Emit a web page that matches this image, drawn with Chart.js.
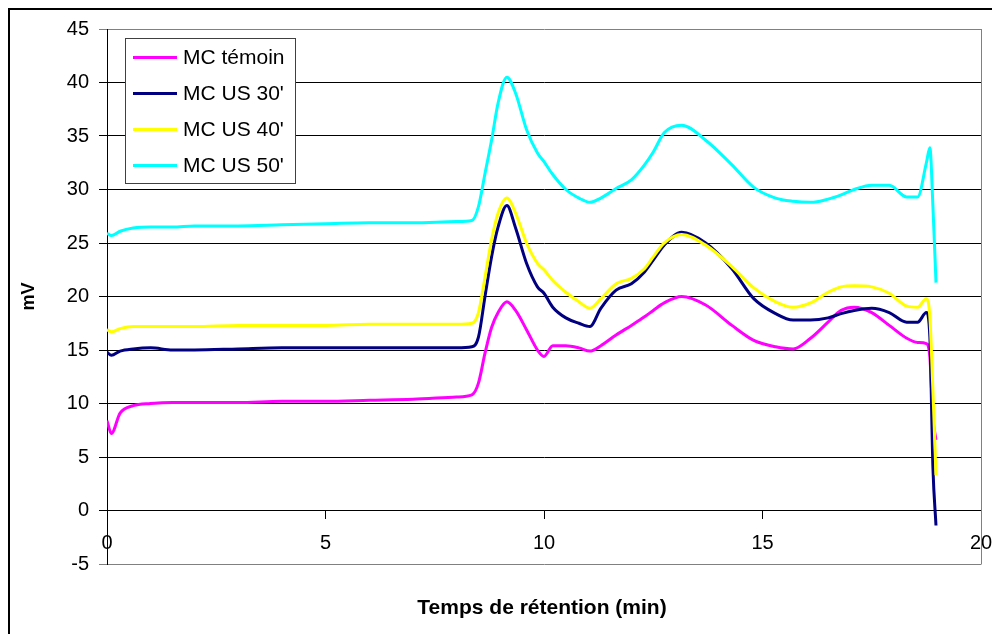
<!DOCTYPE html>
<html>
<head>
<meta charset="utf-8">
<script src="https://cdn.jsdelivr.net/npm/chart.js@4.4.1/dist/chart.umd.min.js"></script>
<style>
  html, body { margin: 0; padding: 0; background: #ffffff; }
  canvas { display: block; }
</style>
</head>
<body>
<canvas id="chromato" width="992" height="634"></canvas>
<script>
// Retention time (min) shared by all four traces
const retentionTime = [
  0, 0.1, 0.3, 0.6, 1, 1.5, 2, 3, 4, 5,
  6, 7, 8, 8.35, 8.5, 8.65, 8.8, 8.95, 9.15, 9.35,
  9.6, 9.85, 10.0, 10.2, 10.5, 10.8, 11.05, 11.3, 11.65, 12.0,
  12.3, 12.5, 12.75, 13.15, 13.7, 14.3, 14.8, 15.3, 15.7, 16.1,
  16.5, 16.8, 17.1, 17.5, 17.9, 18.3, 18.55, 18.75, 18.83, 18.9,
  18.97
];

// Detector signal (mV)
const mcTemoin = [
  8.4, 7.2, 9.1, 9.8, 10.0, 10.1, 10.1, 10.1, 10.2, 10.2,
  10.3, 10.4, 10.6, 10.8, 11.9, 14.7, 17.1, 18.5, 19.5, 18.7,
  16.9, 15.0, 14.4, 15.4, 15.4, 15.2, 14.9, 15.4, 16.4, 17.3,
  18.1, 18.7, 19.4, 20.0, 19.2, 17.3, 15.9, 15.3, 15.1, 16.1,
  17.6, 18.7, 19.0, 18.5, 17.3, 16.1, 15.7, 15.6, 14.3, 8.7,
  6.6
];
const mcUs30 = [
  14.8, 14.5, 14.9, 15.1, 15.2, 15.0, 15.0, 15.1, 15.2, 15.2,
  15.2, 15.2, 15.2, 15.3, 16.2, 20.0, 23.7, 26.5, 28.5, 26.4,
  23.1, 20.9, 20.3, 19.0, 18.0, 17.5, 17.2, 18.9, 20.6, 21.2,
  22.3, 23.4, 24.8, 26.0, 25.0, 22.6, 19.8, 18.4, 17.8, 17.8,
  18.0, 18.4, 18.7, 18.9, 18.5, 17.6, 17.6, 18.5, 16.2, 4.0,
  -1.4
];
const mcUs40 = [
  16.9, 16.7, 17.0, 17.2, 17.2, 17.2, 17.2, 17.3, 17.3, 17.3,
  17.4, 17.4, 17.4, 17.5, 18.5, 21.8, 25.3, 27.8, 29.2, 27.8,
  25.0, 23.1, 22.5, 21.5, 20.4, 19.5, 18.9, 19.8, 21.2, 21.7,
  22.6, 23.7, 25.0, 25.8, 24.8, 22.8, 20.8, 19.5, 19.0, 19.4,
  20.4, 20.9, 21.0, 20.9, 20.3, 19.1, 19.0, 19.8, 18.1, 11.2,
  3.3
];
const mcUs50 = [
  25.9, 25.7, 26.1, 26.4, 26.5, 26.5, 26.6, 26.6, 26.7, 26.8,
  26.9, 26.9, 27.0, 27.1, 28.4, 31.5, 34.6, 38.1, 40.5, 39.0,
  35.6, 33.4, 32.6, 31.4, 30.0, 29.2, 28.8, 29.2, 30.1, 30.9,
  32.3, 33.5, 35.3, 36.0, 34.6, 32.3, 30.2, 29.2, 28.9, 28.8,
  29.1, 29.5, 30.0, 30.4, 30.4, 29.3, 29.3, 32.5, 33.9, 28.4,
  21.3
];

const seriesNames = ['MC témoin', "MC US 30'", "MC US 40'", "MC US 50'"];
const seriesValues = [mcTemoin, mcUs30, mcUs40, mcUs50];
const seriesColors = ['#FF00FF', '#000080', '#FFFF00', '#00FFFF'];

const FONT = "'Liberation Sans', Arial, sans-serif";
Chart.defaults.font.family = FONT;
Chart.defaults.color = '#000000';

const toPoints = vals => retentionTime.map((t, i) => ({ x: t, y: vals[i] }));

// Page background, outer frame and right edge of the plot area
const framePlugin = {
  id: 'frame',
  beforeDraw(chart) {
    const { ctx } = chart;
    ctx.save();
    ctx.fillStyle = '#ffffff';
    ctx.fillRect(0, 0, chart.width, chart.height);
    ctx.strokeStyle = '#000000';
    ctx.lineWidth = 2;
    ctx.strokeRect(9, 9, chart.width + 10, chart.height + 10);
    ctx.restore();
  },
  beforeDatasetsDraw(chart) {
    const { ctx, chartArea: a } = chart;
    ctx.save();
    ctx.strokeStyle = '#808080';
    ctx.lineWidth = 1;
    ctx.beginPath();
    ctx.moveTo(Math.round(a.right) + 0.5, a.top);
    ctx.lineTo(Math.round(a.right) + 0.5, a.bottom + 0.5);
    ctx.stroke();
    ctx.restore();
  }
};

// Boxed legend inside the plot, top-left
const boxLegendPlugin = {
  id: 'boxLegend',
  afterDatasetsDraw(chart) {
    const { ctx } = chart;
    const x0 = 125.5, y0 = 38.5, w = 170, h = 145;
    ctx.save();
    ctx.fillStyle = '#ffffff';
    ctx.fillRect(x0, y0, w, h);
    ctx.strokeStyle = '#404040';
    ctx.lineWidth = 1;
    ctx.strokeRect(x0, y0, w, h);
    ctx.font = '21px ' + FONT;
    ctx.textBaseline = 'middle';
    ctx.textAlign = 'left';
    chart.data.datasets.forEach((ds, i) => {
      const y = 57.5 + i * 36;
      ctx.strokeStyle = ds.borderColor;
      ctx.lineWidth = 3;
      ctx.beginPath();
      ctx.moveTo(133, y);
      ctx.lineTo(177, y);
      ctx.stroke();
      ctx.fillStyle = '#000000';
      ctx.fillText(ds.label, 183, y + 1);
    });
    ctx.restore();
  }
};

// Horizontal axis title under the plot
const xTitlePlugin = {
  id: 'xTitle',
  afterDraw(chart) {
    const { ctx } = chart;
    ctx.save();
    ctx.font = 'bold 21px ' + FONT;
    ctx.fillStyle = '#000000';
    ctx.textAlign = 'center';
    ctx.textBaseline = 'middle';
    ctx.fillText('Temps de rétention (min)', 542, 608);
    ctx.restore();
  }
};

new Chart(document.getElementById('chromato'), {
  type: 'line',
  data: {
    datasets: seriesValues.map((vals, i) => ({
      label: seriesNames[i],
      data: toPoints(vals),
      borderColor: seriesColors[i],
      backgroundColor: seriesColors[i],
      borderWidth: 3,
      pointRadius: 0,
      fill: false,
      cubicInterpolationMode: 'monotone',
      order: seriesValues.length - 1 - i
    }))
  },
  options: {
    responsive: false,
    animation: false,
    devicePixelRatio: 1,
    layout: { padding: { left: 0, top: 29, right: 11, bottom: 70 } },
    plugins: {
      legend: { display: false },
      tooltip: { enabled: false }
    },
    scales: {
      x: {
        type: 'linear',
        position: { y: 0 },
        min: 0,
        max: 20,
        afterFit(scale) { scale.paddingLeft = 0; scale.paddingRight = 0; },
        ticks: {
          stepSize: 5,
          font: { size: 20 },
          color: '#000000',
          padding: 13,
          maxRotation: 0
        },
        grid: {
          drawOnChartArea: false,
          drawTicks: true,
          tickLength: 8,
          color: '#000000'
        },
        border: { color: '#000000', width: 1 }
      },
      y: {
        type: 'linear',
        position: 'left',
        min: -5,
        max: 45,
        afterFit(scale) { scale.width = 107; },
        ticks: {
          stepSize: 5,
          font: { size: 20 },
          color: '#000000',
          padding: 10
        },
        grid: {
          drawTicks: true,
          tickLength: 8,
          color: ctx => (ctx.tick && (ctx.tick.value === 45 || ctx.tick.value === -5)) ? '#808080' : '#000000',
          lineWidth: 1
        },
        border: { color: '#000000', width: 1 },
        title: {
          display: true,
          text: 'mV',
          font: { size: 18, weight: 'bold' },
          color: '#000000',
          padding: { top: 18, bottom: 0 }
        }
      }
    }
  },
  plugins: [framePlugin, boxLegendPlugin, xTitlePlugin]
});
</script>
</body>
</html>
